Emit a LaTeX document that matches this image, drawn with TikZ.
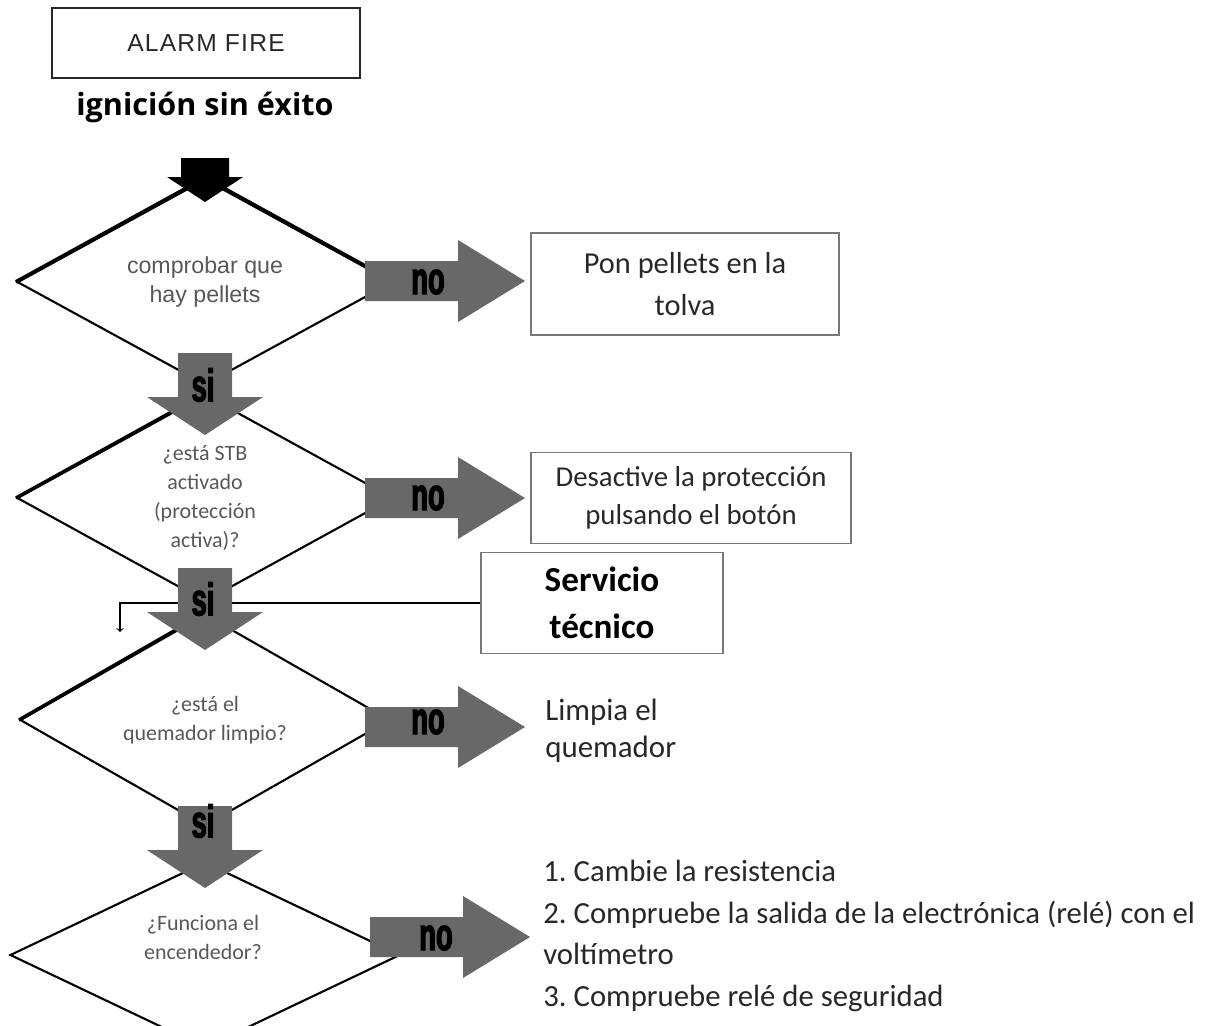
\documentclass[tikz,border=0pt]{standalone}
\usepackage{fontspec}
\setmainfont{Carlito}
\newfontfamily\arialfont{Liberation Sans}
\newfontfamily\alarmfont[LetterSpace=5]{Liberation Sans}
\newfontfamily\headfont{Open Sans}
\newfontfamily\yesnofont[FakeStretch=0.6,FakeBold=2.5]{Liberation Sans}
\usetikzlibrary{shapes.geometric}

\definecolor{arrowgray}{RGB}{104,104,104}
\definecolor{textgray}{RGB}{88,88,88}
\definecolor{darktext}{RGB}{40,40,40}
\definecolor{boxgray}{RGB}{120,120,120}

% fat arrows, drawn from their tip
\def\startarrow{(-24,-44) -- (24,-44) -- (24,-25) -- (38,-25) -- (0,0) -- (-38,-25) -- (-24,-25) -- cycle}
\def\siarrow{(-27,-82) -- (27,-82) -- (27,-38) -- (58,-38) -- (0,0) -- (-58,-38) -- (-27,-38) -- cycle}
\def\noarrow{(-160,-20) -- (-67,-20) -- (-67,-41) -- (0,0) -- (-67,41) -- (-67,20) -- (-160,20) -- cycle}

\begin{document}
\begin{tikzpicture}[x=0.02cm,y=-0.02cm,
    decision/.style={diamond, draw, line width=1.2pt, inner sep=0pt, align=center, text=textgray,
      font=\fontsize{12.5}{16.5}\selectfont},
    outbox/.style={draw=boxgray, line width=0.8pt, inner sep=0pt, align=center, text=darktext},
    yesno/.style={font=\yesnofont\bfseries\fontsize{26}{26}\selectfont, text=black},
    answer/.style={anchor=west, align=left, text=darktext, inner sep=0pt}]
  \useasboundingbox (0,0) rectangle (1223,1025);

  \node[draw=darktext, line width=1.6pt, minimum width=6.16cm, minimum height=1.4cm, text=darktext,
    font=\alarmfont\fontsize{14}{15}\selectfont] (alarm) at (206,43) {ALARM FIRE};
  \node[font=\headfont\bfseries\fontsize{17.4}{20}\selectfont] (title) at (205,107) {ignición sin éxito};

  \node[decision, minimum width=7.52cm, minimum height=3.2cm,
    font=\arialfont\fontsize{13.2}{16}\selectfont] (pellets) at (205,282) {comprobar que\\hay pellets};
  \node[decision, minimum width=7.52cm, minimum height=2.92cm] (stb) at (205,498)
    {¿está STB\\activado\\(protección\\activa)?};
  \node[decision, minimum width=7.4cm, minimum height=3.2cm] (limpio) at (205,720)
    {¿está el\\quemador limpio?};
  \node[decision, minimum width=7.8cm, minimum height=3.72cm] (encend) at (205,955) {};
  \node[align=center, text=textgray, font=\fontsize{12.5}{16.5}\selectfont] (encendtext) at (203,937)
    {¿Funciona el\\encendedor?};
  % heavier upper edges
  \draw[line width=2.3pt] (pellets.west) -- (pellets.north) -- (pellets.east);
  \draw[line width=2pt] (stb.west) -- (stb.north);
  \draw[line width=2pt] (limpio.west) -- (limpio.north);

  \node[outbox, minimum width=6.16cm, minimum height=2.04cm, font=\fontsize{17.3}{23.8}\selectfont]
    (tolva) at (685,284) {Pon pellets en la\\tolva};
  \node[outbox, minimum width=6.4cm, minimum height=1.82cm, font=\fontsize{16.4}{21.5}\selectfont]
    (boton) at (691,498) {Desactive la protección\\pulsando el botón};
  \node[outbox, minimum width=4.84cm, minimum height=2.02cm, text=black,
    font=\bfseries\fontsize{20}{27}\selectfont] (serv) at (602,603) {Servicio\\técnico};
  \node[answer, font=\fontsize{17.6}{21}\selectfont] (quemador) at (545,731) {Limpia el\\quemador};
  \node[answer, font=\fontsize{17.5}{23.8}\selectfont] (pasos) at (543,936)
    {1.~Cambie la resistencia\\2.~Compruebe la salida de la electrónica (relé) con el\\voltímetro\\3.~Compruebe relé de seguridad};

  % line to the service box
  \coordinate (bend) at (120,603);
  \coordinate (drop) at (120,632);
  \draw[->, line width=0.6pt] (serv.west) -- (bend) -- (drop);

  \fill[black, shift={(205,202)}] \startarrow;
  \fill[arrowgray, shift={(205,435)}] \siarrow;
  \fill[arrowgray, shift={(205,650)}] \siarrow;
  \fill[arrowgray, shift={(205,888)}] \siarrow;
  \fill[arrowgray, shift={(525,281)}] \noarrow;
  \fill[arrowgray, shift={(525,498)}] \noarrow;
  \fill[arrowgray, shift={(525,727)}] \noarrow;
  \fill[arrowgray, shift={(530,937)}] \noarrow;

  \node[yesno] (si1) at (203,385) {si};
  \node[yesno] (si2) at (203,599) {si};
  \node[yesno] (si3) at (203,821) {si};
  \node[yesno] (no1) at (428,282) {no};
  \node[yesno] (no2) at (428,498) {no};
  \node[yesno] (no3) at (428,722) {no};
  \node[yesno] (no4) at (436,938) {no};
\end{tikzpicture}
\end{document}
